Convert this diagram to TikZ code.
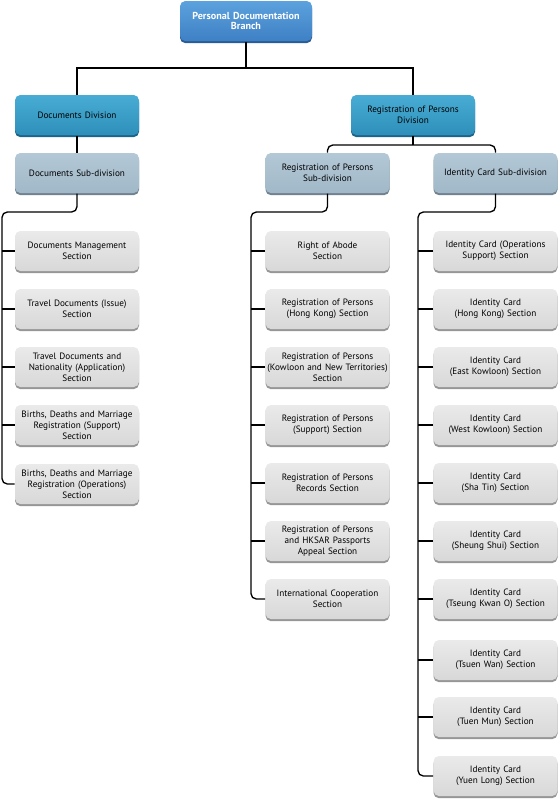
\documentclass[tikz,border=0pt]{standalone}
\usepackage{fontspec}
\setmainfont{PT Sans}
\usetikzlibrary{shadows}

\definecolor{branchtop}{RGB}{92,162,222}
\definecolor{branchbot}{RGB}{62,128,196}
\definecolor{branchedge}{RGB}{42,92,150}
\definecolor{divtop}{RGB}{72,172,212}
\definecolor{divbot}{RGB}{46,144,186}
\definecolor{divedge}{RGB}{30,100,138}
\definecolor{subtop}{RGB}{180,200,214}
\definecolor{subbot}{RGB}{160,184,200}
\definecolor{subedge}{RGB}{112,130,144}
\definecolor{secttop}{RGB}{234,234,234}
\definecolor{sectbot}{RGB}{216,216,216}
\definecolor{sectedge}{RGB}{150,150,150}

\tikzset{every picture/.style={line width=0.75pt}}

\begin{document}
\begin{tikzpicture}[x=0.75pt,y=0.75pt,yscale=-1,xscale=1,
	orgbox/.style={rounded corners=4pt, minimum height=30pt, inner xsep=0pt, inner ysep=1pt,
		text width=93pt, align=center, font=\fontsize{6.9}{8.3}\selectfont},
	branchbox/.style={orgbox, text width=99pt, text=white, font=\bfseries\fontsize{7.6}{8}\selectfont,
		top color=branchtop, bottom color=branchbot, drop shadow={shadow xshift=0pt, shadow yshift=-1.6pt, opacity=1, fill=branchedge}},
	divbox/.style={orgbox, top color=divtop, bottom color=divbot,
		drop shadow={shadow xshift=0pt, shadow yshift=-1.6pt, opacity=1, fill=divedge}},
	subbox/.style={orgbox, top color=subtop, bottom color=subbot,
		drop shadow={shadow xshift=0pt, shadow yshift=-1.6pt, opacity=1, fill=subedge}},
	sectbox/.style={orgbox, top color=secttop, bottom color=sectbot,
		drop shadow={shadow xshift=0pt, shadow yshift=-1.6pt, opacity=1, fill=sectedge}},
	link/.style={line width=1pt, black}]
	\useasboundingbox (0,0) rectangle (558,800);

	%Branch and divisions
	\node (branch) at (246,21) [branchbox] {Personal Documentation\\Branch};
	\node (docdiv) at (77,115) [divbox] {Documents Division};
	\node (regdiv) at (413,115) [divbox] {Registration of Persons\\Division};

	%Sub-divisions
	\node (docsub) at (77,173) [subbox] {Documents Sub-division};
	\node (rsub) at (327.5,173) [subbox] {Registration of Persons\\Sub-division};
	\node (isub) at (495.5,173) [subbox] {Identity Card Sub-division};

	%Documents sections
	\node (ds1) at (77,251) [sectbox] {Documents Management\\Section};
	\node (ds2) at (77,309) [sectbox] {Travel Documents (Issue)\\Section};
	\node (ds3) at (77,367) [sectbox] {Travel Documents and\\Nationality (Application)\\Section};
	\node (ds4) at (77,425) [sectbox] {Births, Deaths and Marriage\\Registration (Support)\\Section};
	\node (ds5) at (77,484) [sectbox] {Births, Deaths and Marriage\\Registration (Operations)\\Section};

	%Registration of persons sections
	\node (rs1) at (327.5,251) [sectbox] {Right of Abode\\Section};
	\node (rs2) at (327.5,309) [sectbox] {Registration of Persons\\(Hong Kong) Section};
	\node (rs3) at (327.5,367) [sectbox] {Registration of Persons\\(Kowloon and New Territories)\\Section};
	\node (rs4) at (327.5,425) [sectbox] {Registration of Persons\\(Support) Section};
	\node (rs5) at (327.5,483) [sectbox] {Registration of Persons\\Records Section};
	\node (rs6) at (327.5,541) [sectbox] {Registration of Persons\\and HKSAR Passports\\Appeal Section};
	\node (rs7) at (327.5,599) [sectbox] {International Cooperation\\Section};

	%Identity card sections
	\node (is1) at (495.5,251) [sectbox] {Identity Card (Operations\\Support) Section};
	\node (is2) at (495.5,309) [sectbox] {Identity Card\\(Hong Kong) Section};
	\node (is3) at (495.5,367) [sectbox] {Identity Card\\(East Kowloon) Section};
	\node (is4) at (495.5,425) [sectbox] {Identity Card\\(West Kowloon) Section};
	\node (is5) at (495.5,483) [sectbox] {Identity Card\\(Sha Tin) Section};
	\node (is6) at (495.5,541) [sectbox] {Identity Card\\(Sheung Shui) Section};
	\node (is7) at (495.5,599) [sectbox] {Identity Card\\(Tseung Kwan O) Section};
	\node (is8) at (495.5,660) [sectbox] {Identity Card\\(Tsuen Wan) Section};
	\node (is9) at (495.5,717) [sectbox] {Identity Card\\(Tuen Mun) Section};
	\node (is10) at (495.5,776) [sectbox] {Identity Card\\(Yuen Long) Section};

	%Connectors
	\coordinate (topbar) at (246,68);
	\coordinate (regbar) at (413,145);
	\coordinate (doctrunk) at (2,212);
	\coordinate (regtrunk) at (251,212);
	\coordinate (idtrunk) at (418,212);

	\draw [link] (branch.south) -- (branch.south |- topbar);
	\draw [link] (docdiv.north) |- (topbar) -| (regdiv.north);
	\draw [link] (docdiv.south) -- (docsub.north);
	\draw [link] (regdiv.south) -- (regdiv.south |- regbar);
	\draw [link, rounded corners=4pt] (rsub.north) |- (regbar) -| (isub.north);

	\draw [link, rounded corners=4pt] (docsub.south) |- (doctrunk) |- (ds5.west);
	\foreach \i in {1,...,4}
		\draw [link] (ds\i.west) -- (ds\i.west -| doctrunk);
	\draw [link, rounded corners=4pt] (rsub.south) |- (regtrunk) |- (rs7.west);
	\foreach \i in {1,...,6}
		\draw [link] (rs\i.west) -- (rs\i.west -| regtrunk);
	\draw [link, rounded corners=4pt] (isub.south) |- (idtrunk) |- (is10.west);
	\foreach \i in {1,...,9}
		\draw [link] (is\i.west) -- (is\i.west -| idtrunk);

\end{tikzpicture}
\end{document}
